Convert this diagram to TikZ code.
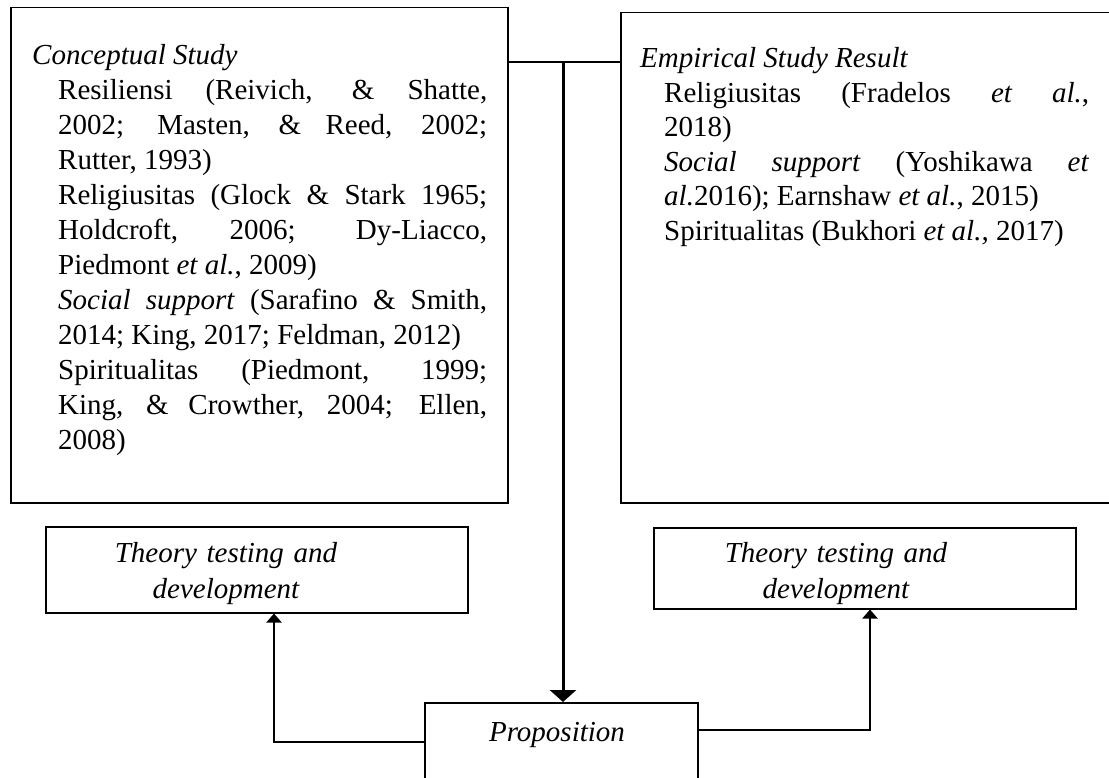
\documentclass[tikz,border=0pt]{standalone}
\usepackage{fontspec}
\setmainfont{Liberation Serif}
\usepackage{tikz}
\usetikzlibrary{arrows,arrows.meta,positioning}

\begin{document}
\begin{tikzpicture}[x=1pt,y=-1pt,>={Triangle[width=15pt,length=9pt]},
			frame/.style={draw,line width=1.5pt,inner sep=0pt,anchor=north west},
			bodytext/.style={inner sep=0pt,anchor=base west,align=justify,
				font=\fontsize{29}{35}\selectfont},
			notetext/.style={inner sep=0pt,anchor=base,align=center,text width=260pt,
				font=\fontsize{29}{36}\selectfont\itshape},
			link/.style={line width=2pt},
			mainlink/.style={line width=3pt,-{Triangle[width=26pt,length=12pt]}}]
			
			\useasboundingbox (0,0) rectangle (1109,778);
			
			\node[frame,minimum width=497pt,minimum height=495pt] (concept) at (10,7) {};
			\node[frame,minimum width=500pt,minimum height=490pt] (empir) at (620,12) {};
			\node[frame,minimum width=422pt,minimum height=86pt] (testL) at (45,526) {};
			\node[frame,minimum width=422pt,minimum height=81pt] (testR) at (653,527) {};
			\node[frame,minimum width=273pt,minimum height=110pt] (prop) at (424,702) {};
			
			\node[bodytext,text width=455pt] (conceptText) at (32,65) {%
				\tolerance=10000\hyphenpenalty=10000\exhyphenpenalty=10000
				{\itshape Conceptual Study}\par
				\leftskip=26pt
				Resiliensi (Reivich, \& Shatte,\linebreak 2002; Masten, \& Reed, 2002;\linebreak Rutter, 1993)\par
				Religiusitas (Glock \& Stark 1965;\linebreak Holdcroft, 2006; Dy-Liacco,\linebreak Piedmont \textit{et al.}, 2009)\par
				\textit{Social support} (Sarafino \& Smith,\linebreak 2014; King, 2017; Feldman, 2012)\par
				Spiritualitas (Piedmont, 1999;\linebreak King, \& Crowther, 2004; Ellen,\linebreak 2008)\par};
			\node[bodytext,text width=449pt,font=\fontsize{29}{34.5}\selectfont] (empirText) at (640,68) {%
				\tolerance=10000\hyphenpenalty=10000\exhyphenpenalty=10000
				{\itshape Empirical Study Result}\par
				\leftskip=24pt
				Religiusitas (Fradelos \textit{et al.},\linebreak 2018)\par
				\textit{Social support} (Yoshikawa \textit{et}\linebreak \textit{al.}2016); Earnshaw \textit{et al.}, 2015)\par
				Spiritualitas (Bukhori \textit{et al.,} 2017)\par};
			
			\node[notetext] (testLText) at (226,562) {Theory testing and\\development};
			\node[notetext] (testRText) at (836,562) {Theory testing and\\development};
			\node[notetext] (propText) at (557,741) {Proposition};
			
			\coordinate (hub) at (563,62);
			\coordinate (leftBend) at (274,742);
			\coordinate (rightBend) at (870,730);
			
			\draw[link] (hub -| concept.east) -- (hub -| empir.west);
			\draw[mainlink] (hub) -- (hub |- prop.north);
			\draw[link,->] (prop.west |- leftBend) -- (leftBend) -- (leftBend |- testL.south);
			\draw[link,->] (prop.east |- rightBend) -- (rightBend) -- (rightBend |- testR.south);
\end{tikzpicture}
\end{document}
